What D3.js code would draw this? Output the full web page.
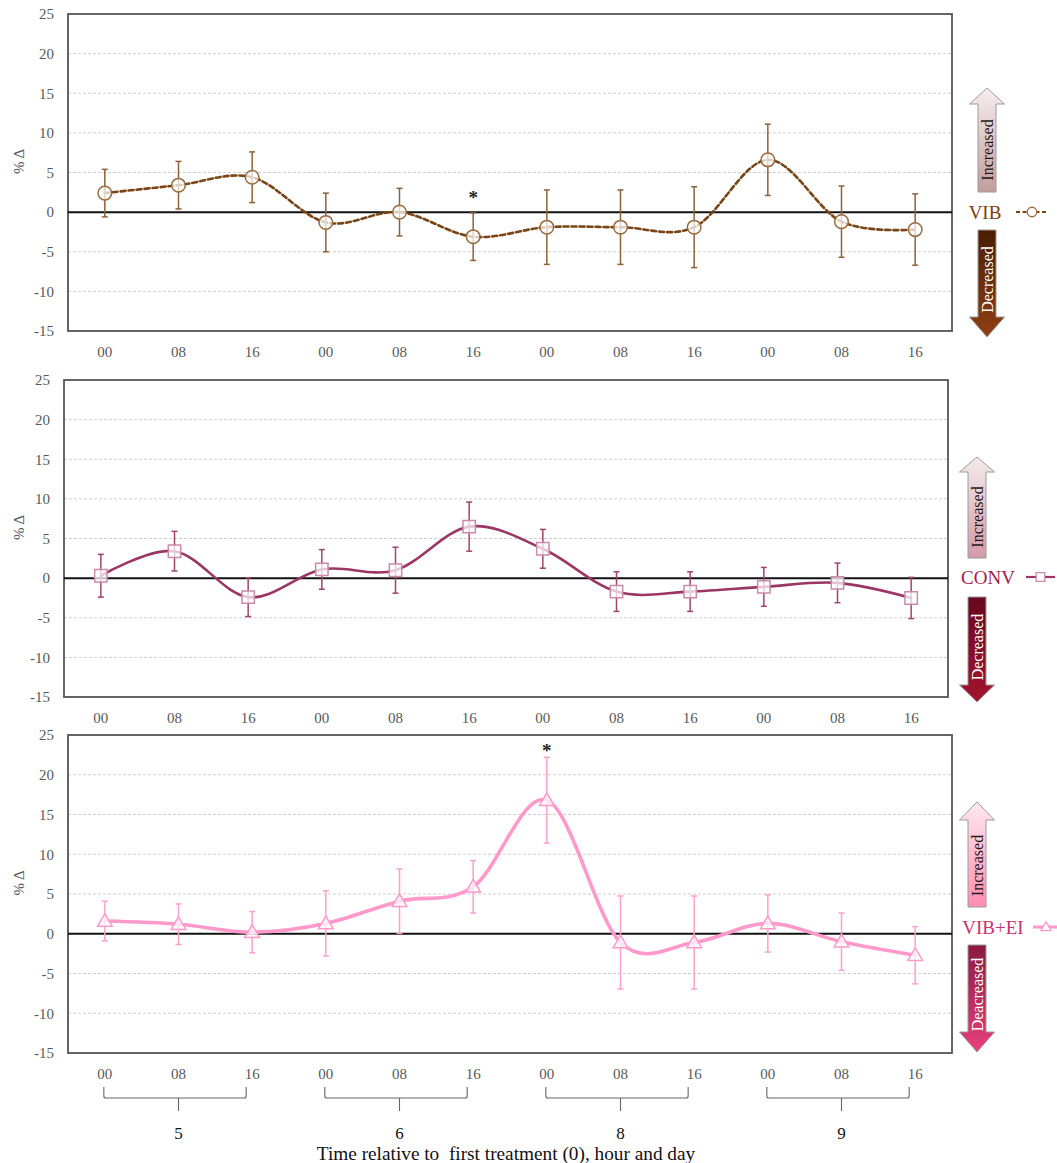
<!DOCTYPE html>
<html><head><meta charset="utf-8">
<script src="https://cdn.jsdelivr.net/npm/d3@7"></script>
<style>
body{margin:0;background:#fff;}
text{font-family:"Liberation Serif","Times New Roman",serif;}
</style>
</head><body>
<svg id="c" width="1057" height="1163"></svg>
<script>
// ---------- DATA ----------
const hours = ["00","08","16","00","08","16","00","08","16","00","08","16"];
const days = ["5","6","8","9"];
const yTicks = [-15,-10,-5,0,5,10,15,20,25];
const seriesNames = ["VIB","CONV","VIB+EI"];
const vibMean  = [2.4, 3.4, 4.4, -1.3, 0.0, -3.1, -1.9, -1.9, -1.9, 6.6, -1.2, -2.2];
const vibErr   = [3.0, 3.0, 3.2, 3.7, 3.0, 3.0, 4.7, 4.7, 5.1, 4.5, 4.5, 4.5];
const convMean = [0.3, 3.4, -2.4, 1.1, 1.0, 6.5, 3.7, -1.7, -1.7, -1.1, -0.6, -2.5];
const convErr  = [2.7, 2.5, 2.45, 2.5, 2.9, 3.1, 2.45, 2.5, 2.5, 2.45, 2.5, 2.6];
const eiMean   = [1.6, 1.2, 0.2, 1.3, 4.1, 5.9, 16.8, -1.1, -1.1, 1.3, -1.0, -2.7];
const eiErr    = [2.5, 2.55, 2.6, 4.1, 4.05, 3.3, 5.4, 5.85, 5.85, 3.6, 3.6, 3.6];
// significance marks: panel, point index, value at which the * sits
const sigPanel = [0, 2];
const sigIndex = [5, 6];
const sigValue = [2.1, 23.4];
const arrowUpText = ["Increased","Increased","Increased"];
const arrowDownText = ["Decreased","Decreased","Deacreased"];
const xTitle = "Time relative to  first treatment (0), hour and day";

// ---------- LAYOUT / STYLE ----------
const W = 1057, H = 1163;
const svg = d3.select("#c");
const FONT = "Liberation Serif, Times New Roman, serif";
const layout = [
  {left:68, right:952, top:14, bottom:331, acx:987, up:[88,104,192], down:[230,317,337], lx:985, ly:212, ll:[1016,1048]},
  {left:64, right:948, top:380, bottom:697, acx:977, up:[457,472,558], down:[597,685,702], lx:988, ly:577, ll:[1026,1055]},
  {left:68, right:952, top:735, bottom:1053, acx:977, up:[802,820,907], down:[945,1032,1052], lx:993, ly:927, ll:[1033,1059]}
];
const styles = [
  {line:"#7a4516", dash:"5,3", lw:2.6, err:"#8c6239", mk:"circle", mkStroke:"#9a6b3d", legendColor:"#843c0c",
   upG:["#f6eeee","#c49c9c"], downG:["#4a1c04","#8f3f12"]},
  {line:"#9b3566", dash:null, lw:2.6, err:"#a2436f", mk:"square", mkStroke:"#c98aab", legendColor:"#a01c44",
   upG:["#f4eaec","#d49aa8"], downG:["#68081e","#a3132f"]},
  {line:"#ff99cc", dash:null, lw:3.6, err:"#ff9fcf", mk:"triangle", mkStroke:"#ff99cc", legendColor:"#c8326e",
   upG:["#ffe8f0","#ff8db0"], downG:["#8a1a40","#e8407a"]}
];
const means = [vibMean, convMean, eiMean];
const errs = [vibErr, convErr, eiErr];

svg.append("rect").attr("width",W).attr("height",H).attr("fill","#fff");
const defs = svg.append("defs");

function markerPath(type, s){
  if(type==="circle") return d3.symbol().type(d3.symbolCircle).size(Math.PI*s*s)();
  if(type==="square") return `M${-s},${-s}H${s}V${s}H${-s}Z`;
  return `M0,${-s*1.05}L${s*1.05},${s*0.75}L${-s*1.05},${s*0.75}Z`;
}
const mkSize = {circle:6.8, square:6.2, triangle:7};

layout.forEach((L, p) => {
  const st = styles[p];
  const g = svg.append("g");
  const x = d3.scaleBand().domain(d3.range(hours.length)).range([L.left, L.right]);
  const y = d3.scaleLinear().domain([-15,25]).range([L.bottom, L.top]);
  const cx = i => x(i) + x.bandwidth()/2;

  // gridlines
  g.append("g").selectAll("line").data(yTicks.filter(t => t!==0 && t!==25 && t!==-15)).join("line")
    .attr("x1",L.left).attr("x2",L.right).attr("y1",d=>y(d)).attr("y2",d=>y(d))
    .attr("stroke","#cfcfcf").attr("stroke-width",1).attr("stroke-dasharray","3,2");

  // frame
  g.append("rect").attr("x",L.left).attr("y",L.top).attr("width",L.right-L.left).attr("height",L.bottom-L.top)
    .attr("fill","none").attr("stroke","#555").attr("stroke-width",1.8);
  // zero line
  g.append("line").attr("x1",L.left).attr("x2",L.right).attr("y1",y(0)).attr("y2",y(0))
    .attr("stroke","#111").attr("stroke-width",2);

  // y axis
  const ya = d3.axisLeft(y).tickValues(yTicks).tickFormat(d => String(d)).tickSize(0).tickPadding(14);
  const yg = g.append("g").attr("transform",`translate(${L.left},0)`).call(ya).attr("font-family",FONT);
  yg.select(".domain").remove();
  yg.selectAll("text").attr("font-size",15).attr("fill","#595959").attr("font-family",FONT);

  // x axis
  const xa = d3.axisBottom(x).tickFormat(i => hours[i]).tickSize(0).tickPadding(15);
  const xg = g.append("g").attr("transform",`translate(0,${L.bottom})`).call(xa).attr("font-family",FONT);
  xg.select(".domain").remove();
  xg.selectAll("text").attr("font-size",15).attr("fill","#595959").attr("font-family",FONT);

  // y label
  g.append("text").attr("transform",`translate(24,${(L.top+L.bottom)/2-11}) rotate(-90)`)
    .attr("text-anchor","middle").attr("font-size",15).attr("fill","#595959").text("% Δ");

  const data = means[p].map((m,i)=>({i, m, e:errs[p][i]}));
  // line
  const line = d3.line().x(d=>cx(d.i)).y(d=>y(d.m)).curve(d3.curveCardinal.tension(0));
  g.append("path").datum(data).attr("d",line).attr("fill","none")
    .attr("stroke",st.line).attr("stroke-width",st.lw).attr("stroke-dasharray",st.dash)
    .attr("stroke-linecap","round");

  // error bars
  const eb = g.append("g").attr("stroke",st.err).attr("stroke-width",1.5);
  data.forEach(d=>{
    eb.append("line").attr("x1",cx(d.i)).attr("x2",cx(d.i)).attr("y1",y(d.m+d.e)).attr("y2",y(d.m-d.e));
    eb.append("line").attr("x1",cx(d.i)-3).attr("x2",cx(d.i)+3).attr("y1",y(d.m+d.e)).attr("y2",y(d.m+d.e));
    eb.append("line").attr("x1",cx(d.i)-3).attr("x2",cx(d.i)+3).attr("y1",y(d.m-d.e)).attr("y2",y(d.m-d.e));
  });

  // markers
  g.append("g").selectAll("path").data(data).join("path")
    .attr("d", markerPath(st.mk, mkSize[st.mk]))
    .attr("transform", d=>`translate(${cx(d.i)},${y(d.m)})`)
    .attr("fill","rgba(255,255,255,0.72)").attr("stroke",st.mkStroke).attr("stroke-width",1.5);

  // significance
  sigPanel.forEach((sp,k)=>{
    if(sp!==p) return;
    g.append("text").attr("x",cx(sigIndex[k])).attr("y",y(sigValue[k])+9).attr("text-anchor","middle")
      .attr("font-size",19).attr("font-weight","bold").attr("fill","#222").text("*");
  });

  // arrows
  const bh = 9, hh = 17.5, c = L.acx;
  const gu = "gu"+p, gd = "gd"+p;
  const lgU = defs.append("linearGradient").attr("id",gu).attr("x1",0).attr("y1",0).attr("x2",0).attr("y2",1);
  lgU.append("stop").attr("offset","0%").attr("stop-color",st.upG[0]);
  lgU.append("stop").attr("offset","100%").attr("stop-color",st.upG[1]);
  const lgD = defs.append("linearGradient").attr("id",gd).attr("x1",0).attr("y1",0).attr("x2",0).attr("y2",1);
  lgD.append("stop").attr("offset","0%").attr("stop-color",st.downG[0]);
  lgD.append("stop").attr("offset","100%").attr("stop-color",st.downG[1]);
  const [ut, uh, ub] = L.up;
  g.append("path").attr("d",`M${c},${ut}L${c+hh},${uh}H${c+bh}V${ub}H${c-bh}V${uh}H${c-hh}Z`)
    .attr("fill",`url(#${gu})`).attr("stroke","#9a9a9a").attr("stroke-width",1);
  g.append("text").attr("transform",`translate(${c+5.5},${(uh+ub)/2+2}) rotate(-90)`)
    .attr("text-anchor","middle").attr("font-size",16).attr("fill","#1a1a1a").text(arrowUpText[p]);
  const [dt, dh, dtip] = L.down;
  g.append("path").attr("d",`M${c-bh},${dt}H${c+bh}V${dh}H${c+hh}L${c},${dtip}L${c-hh},${dh}H${c-bh}Z`)
    .attr("fill",`url(#${gd})`).attr("stroke","#9a9a9a").attr("stroke-width",1);
  g.append("text").attr("transform",`translate(${c+5.5},${(dt+dh)/2+6}) rotate(-90)`)
    .attr("text-anchor","middle").attr("font-size",16).attr("fill","#fff").text(arrowDownText[p]);

  // legend
  g.append("text").attr("x",L.lx).attr("y",L.ly).attr("dy","0.35em").attr("text-anchor","middle")
    .attr("font-size",19).attr("fill",st.legendColor).text(seriesNames[p]);
  const lmx = (L.ll[0]+L.ll[1])/2;
  g.append("line").attr("x1",L.ll[0]).attr("x2",L.ll[1]).attr("y1",L.ly).attr("y2",L.ly)
    .attr("stroke",st.line).attr("stroke-width",st.lw*0.85).attr("stroke-dasharray",st.dash ? "4,2.5" : null);
  g.append("path").attr("d",markerPath(st.mk, mkSize[st.mk]*0.7)).attr("transform",`translate(${lmx},${L.ly})`)
    .attr("fill","#fff").attr("stroke",st.mkStroke).attr("stroke-width",1.3);

  // day brackets under last panel
  if(p===layout.length-1){
    const bg = g.append("g").attr("fill","none").attr("stroke","#666").attr("stroke-width",1.1);
    days.forEach((dname,k)=>{
      const a = cx(k*3)-1, b = cx(k*3+2)-6, m = cx(k*3+1);
      const yt = L.bottom+34, yh = L.bottom+45, yb = L.bottom+58;
      bg.append("path").attr("d",`M${a},${yt}V${yh-2}Q${a},${yh} ${a+2},${yh}H${b-2}Q${b},${yh} ${b},${yh-2}V${yt}M${m},${yh}V${yb}`);
      g.append("text").attr("x",m).attr("y",L.bottom+86).attr("text-anchor","middle")
        .attr("font-size",17).attr("fill","#111").text(dname);
    });
    g.append("text").attr("x",(L.left+L.right)/2-4).attr("y",L.bottom+107).attr("text-anchor","middle")
      .attr("font-size",19.3).attr("fill","#111").style("white-space","pre")
      .text(xTitle);
  }
});
</script>
</body></html>
